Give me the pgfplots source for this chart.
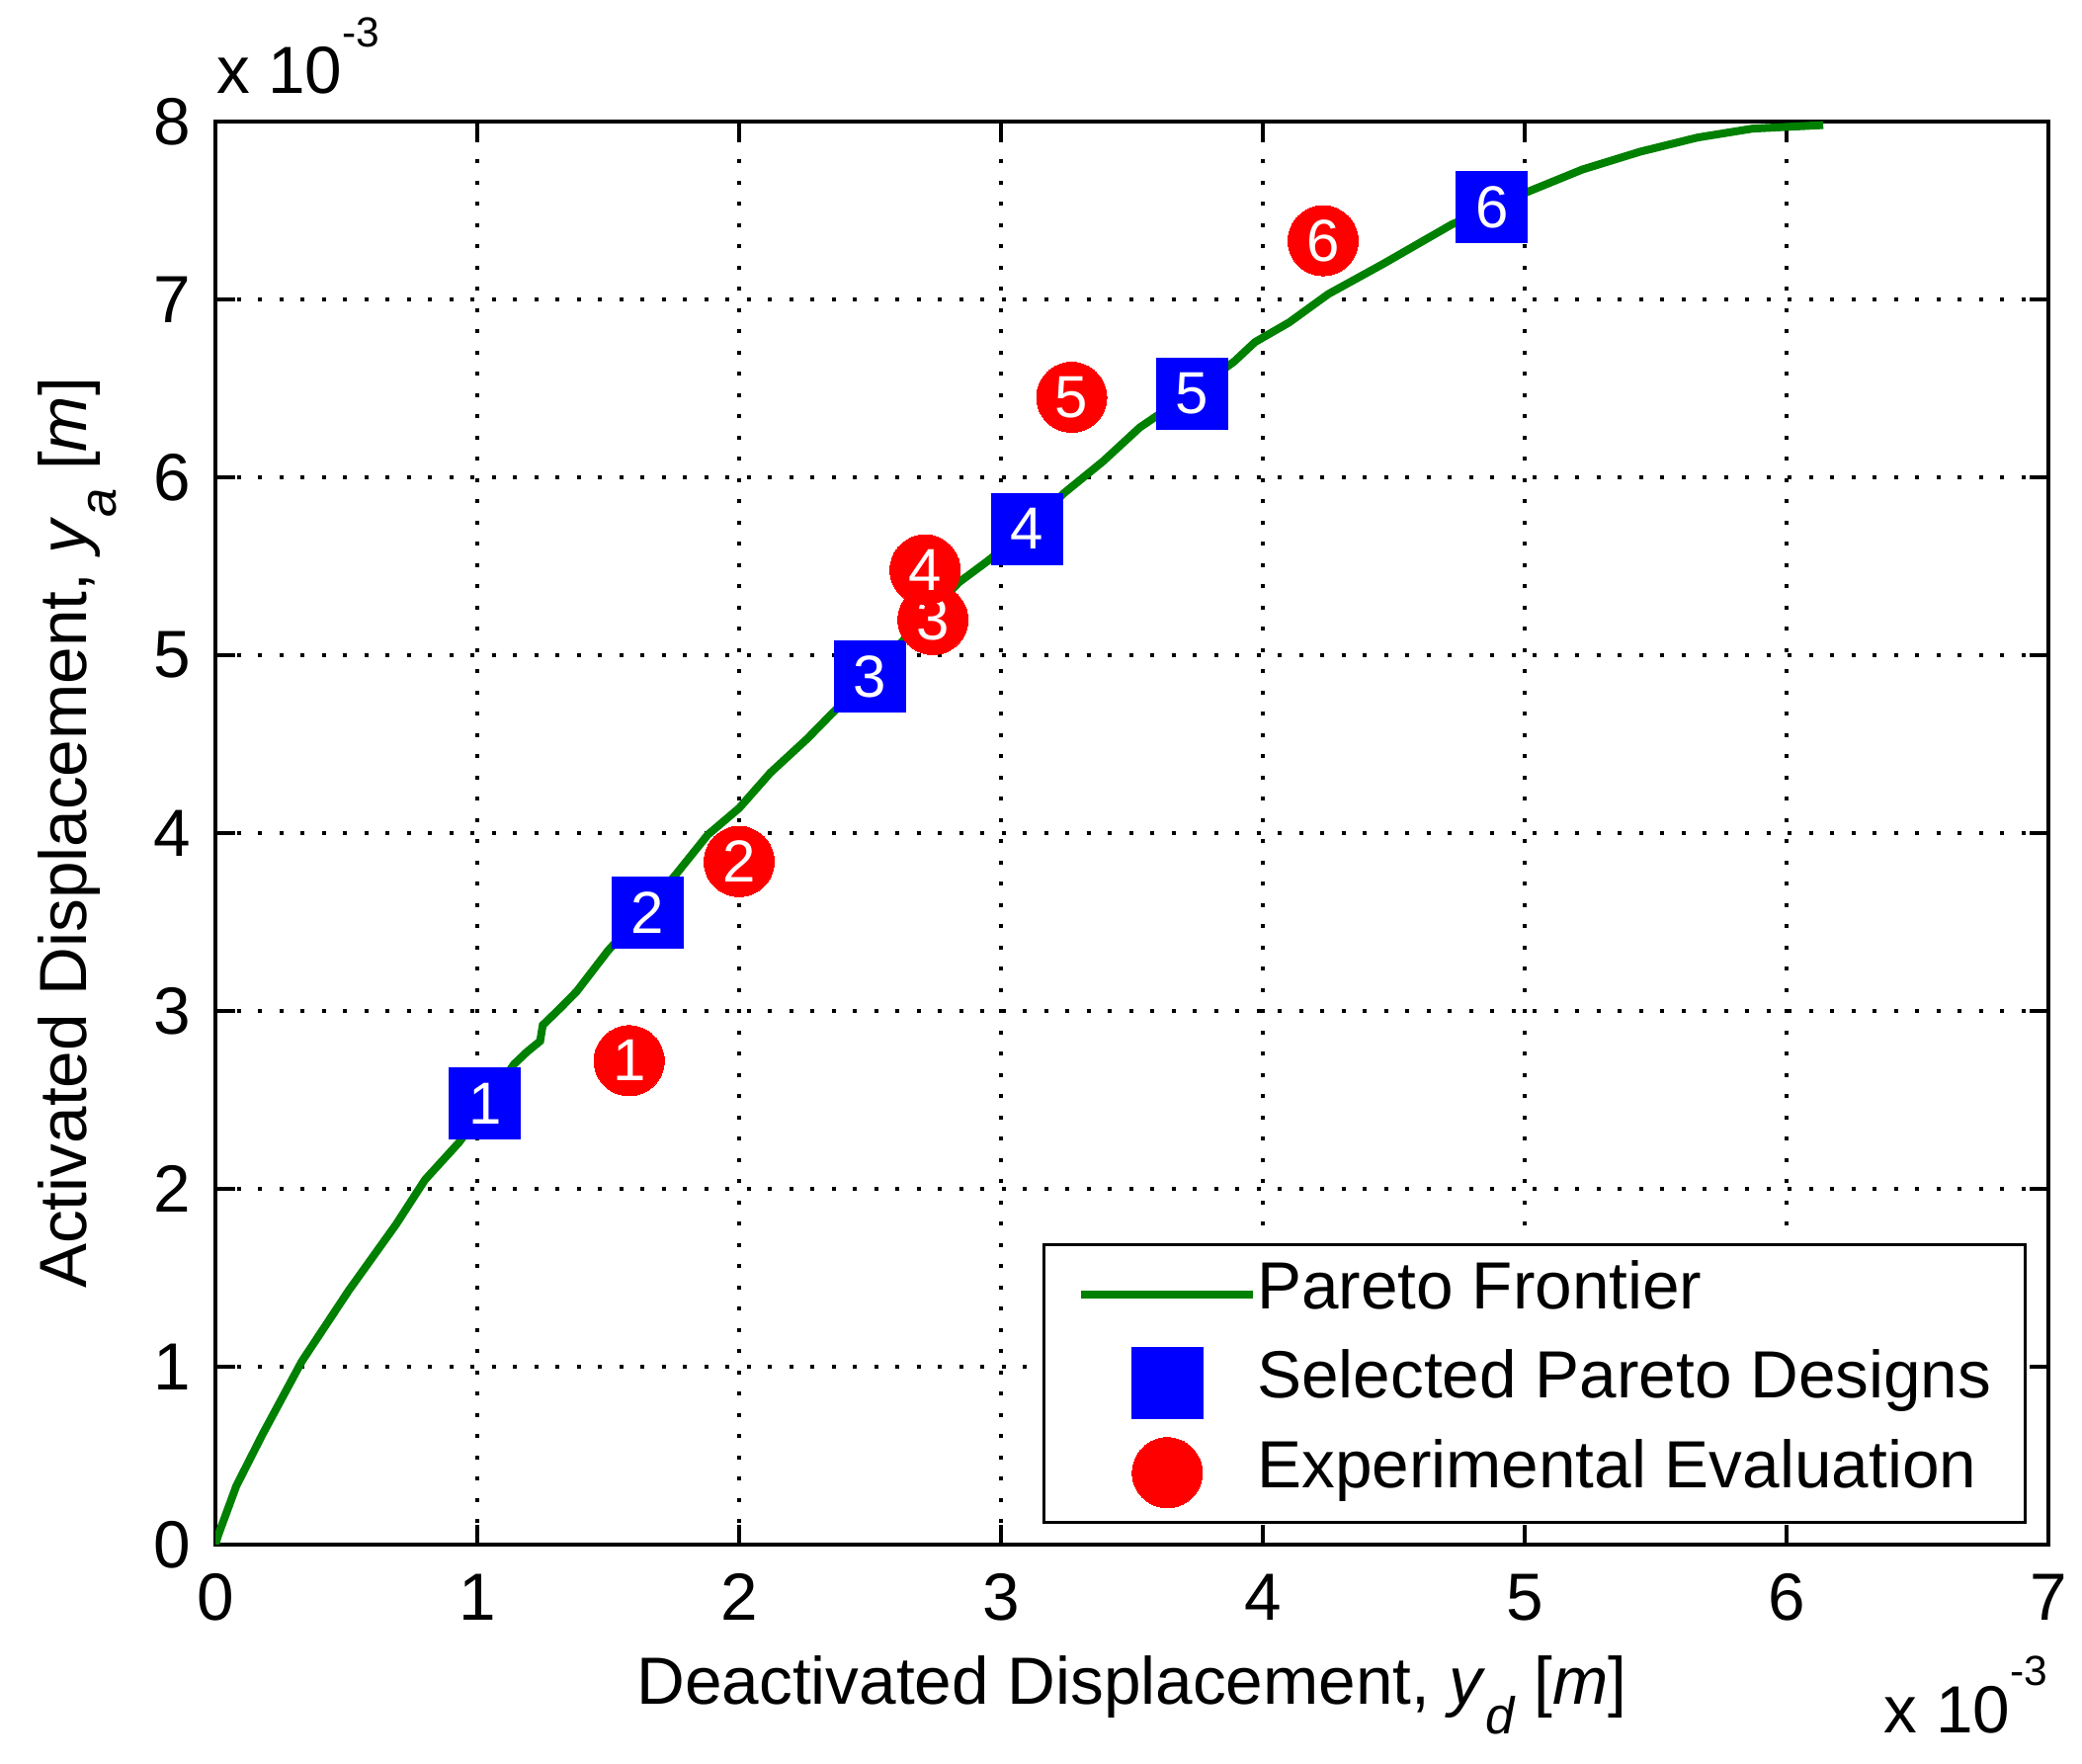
\documentclass[border=0pt]{standalone}
\usepackage{fontspec}
\setmainfont{Liberation Sans}
\usepackage{pgfplots}
\pgfplotsset{compat=1.18}
\definecolor{mgreen}{rgb}{0,0.5,0}
\newcommand{\subsc}[1]{\raisebox{-6pt}{\fontsize{10.5}{10.5}\selectfont\textit{#1}}}
\newcommand{\expo}{x 10\raisebox{9.5pt}{\fontsize{8.5}{8.5}\selectfont -3}}
\begin{document}
\fontsize{13.5}{16.2}\selectfont
\begin{tikzpicture}
\begin{axis}[
  scale only axis, width=371pt, height=288pt,
  xmin=0, xmax=7, ymin=0, ymax=8,
  xtick={0,1,2,3,4,5,6,7}, ytick={0,1,2,3,4,5,6,7,8},
  /pgf/number format/assume math mode=true,
  tick align=inside, xtick pos=both, ytick pos=both,
  major tick length=3.9pt,
  axis line style={line width=0.7pt},
  tick style={black, line width=0.7pt},
  grid=major,
  major grid style={black, line width=0.8pt, dash pattern=on 0.8pt off 3.5pt},
  xticklabel style={anchor=base, yshift=-15.4pt, inner sep=0pt},
  yticklabel style={anchor=east, xshift=-4.8pt, inner sep=0pt},
  every axis x label/.style={at={(axis description cs:0.5,-0.1125)}, anchor=base},
  every axis y label/.style={at={(axis description cs:-0.0706,0.5)}, anchor=base, rotate=90},
  xlabel={Deactivated Displacement, \textit{y}\subsc{d} [\textit{m}]},
  ylabel={Activated Displacement, \textit{y}\subsc{a} [\textit{m}]},
  legend image code/.code={\draw[mark repeat=2,mark phase=2,#1] plot coordinates {(0pt,0pt) (17.4pt,0pt) (34.8pt,0pt)};},
  legend cell align=left,
  legend style={at={(rel axis cs:1,0)}, anchor=south east, xshift=-4.4pt, yshift=4.1pt,
    draw=black, line width=0.7pt, inner xsep=6.8pt, inner ysep=3pt, row sep=3.8pt,
    nodes={inner sep=0pt, text height=10pt, text depth=4pt},
    /tikz/every even column/.append style={column sep=3.4pt}},
  every node near coord/.append style={anchor=center, inner sep=0pt, text=white, font=\fontsize{12}{12}\selectfont},
]
\addplot[mgreen, line width=1.6pt, no markers] coordinates {
(0,0) (0.01,0.05) (0.08,0.33) (0.18,0.62) (0.33,1.03) (0.51,1.43) (0.69,1.80) (0.80,2.05) (0.93,2.26) (1.03,2.46) (1.14,2.70) (1.19,2.77) (1.24,2.83) (1.25,2.92) (1.32,3.02) (1.38,3.11) (1.50,3.34) (1.65,3.58) (1.76,3.77) (1.88,3.99) (2.00,4.14) (2.12,4.34) (2.26,4.53) (2.36,4.68) (2.50,4.88) (2.65,5.12) (2.84,5.41) (2.95,5.53) (3.10,5.71) (3.24,5.91) (3.39,6.09) (3.53,6.28) (3.73,6.48) (3.89,6.65) (3.97,6.76) (4.10,6.87) (4.25,7.03) (4.46,7.20) (4.72,7.42) (4.875,7.52) (5.02,7.61) (5.22,7.73) (5.44,7.83) (5.66,7.91) (5.87,7.96) (6.14,7.98)
};
\addlegendentry{Pareto Frontier}
\addplot[only marks, color=blue, mark=square*, mark size=7.2pt, mark options={draw=blue, fill=blue, line width=0pt},
  nodes near coords, point meta=explicit symbolic] table[meta=lab] {
x y lab
1.03 2.48 1
1.65 3.55 2
2.50 4.88 3
3.10 5.71 4
3.73 6.47 5
4.875 7.52 6
};
\addlegendentry{Selected Pareto Designs}
\addplot[only marks, color=red, mark=*, mark size=7.1pt, mark options={draw=red, fill=red, line width=0pt},
  nodes near coords, point meta=explicit symbolic] table[meta=lab] {
x y lab
1.58 2.72 1
2.00 3.84 2
2.74 5.20 3
2.71 5.48 4
3.27 6.45 5
4.23 7.33 6
};
\addlegendentry{Experimental Evaluation}
\coordinate (ll) at (rel axis cs:0,0);
\coordinate (ur) at (rel axis cs:1,1);
\coordinate (ul) at (rel axis cs:0,1);
\coordinate (lr) at (rel axis cs:1,0);
\end{axis}
\node[anchor=base west, inner sep=0pt] at ([yshift=5.6pt]ul) {\expo};
\node[anchor=base east, inner sep=0pt] at ([yshift=-38.1pt]lr) {\expo};
\pgfresetboundingbox
\path[use as bounding box] ([shift={(-43.6pt,-44.4pt)}]ll) rectangle ([shift={(6.8pt,24.6pt)}]ur);
\end{tikzpicture}
\end{document}
